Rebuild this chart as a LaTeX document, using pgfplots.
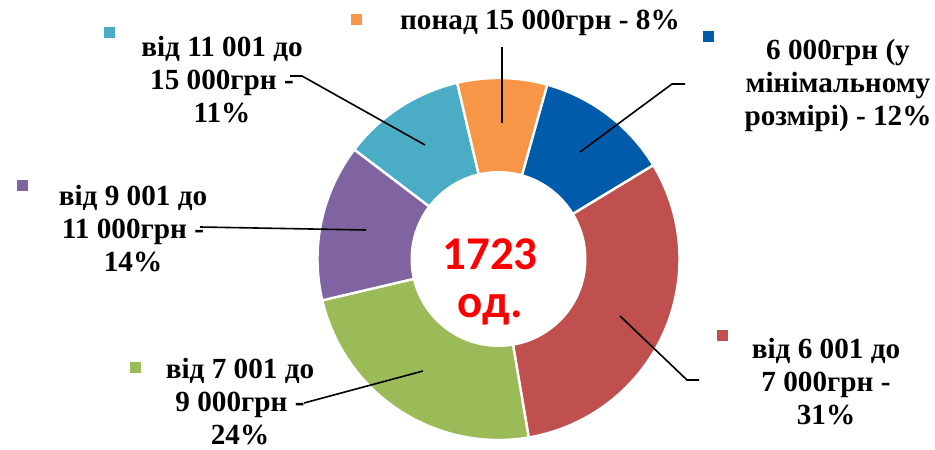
\documentclass[border=0pt]{standalone}
\usepackage{pgfplots}
\pgfplotsset{compat=1.18}
\usepackage{fontspec}
\setmainfont{Liberation Serif}
\newfontfamily\carlito{Carlito}
\definecolor{cblue}{RGB}{0,91,170}
\definecolor{cred}{RGB}{192,80,77}
\definecolor{cgreen}{RGB}{155,187,89}
\definecolor{cpurple}{RGB}{128,100,162}
\definecolor{cteal}{RGB}{75,172,198}
\definecolor{corange}{RGB}{247,150,70}
% shares, %, clockwise from the first slice
\def\vA{12}\def\vB{31}\def\vC{24}\def\vD{14}\def\vE{11}\def\vF{8}
\pgfmathsetmacro\aA{74.4}
\pgfmathsetmacro\aB{\aA-3.6*\vA}
\pgfmathsetmacro\aC{\aB-3.6*\vB}
\pgfmathsetmacro\aD{\aC-3.6*\vC}
\pgfmathsetmacro\aE{\aD-3.6*\vD}
\pgfmathsetmacro\aF{\aE-3.6*\vE}
\pgfmathsetmacro\aG{\aF-3.6*\vF}
\def\R{90.5pt}
\def\r{44pt}
\newcommand\slice[3]{\fill[#3, draw=white, line width=1.2pt] (axis cs:498.5,190) -- ++(#1:\R) arc[start angle=#1, end angle=#2, radius=\R] -- cycle;}
\begin{document}
\begin{tikzpicture}
\begin{axis}[scale only axis, width=467.5pt, height=224.5pt,
  xmin=0, xmax=935, ymin=0, ymax=449, hide axis, clip=false]
\slice{\aA}{\aB}{cblue}
\slice{\aB}{\aC}{cred}
\slice{\aC}{\aD}{cgreen}
\slice{\aD}{\aE}{cpurple}
\slice{\aE}{\aF}{cteal}
\slice{\aF}{\aG}{corange}
\fill[white] (axis cs:498.5,190) circle[radius=\r];
% leader lines
\draw[line width=0.8pt] (axis cs:502,326) -- (axis cs:502,402);
\draw[line width=0.8pt] (axis cs:580,297) -- (axis cs:672,365) -- (axis cs:685,365);
\draw[line width=0.8pt] (axis cs:620,133) -- (axis cs:687,69) -- (axis cs:699,69);
\draw[line width=0.8pt] (axis cs:423,78) -- (axis cs:304,46);
\draw[line width=0.8pt] (axis cs:366,219) -- (axis cs:200,222);
\draw[line width=0.8pt] (axis cs:425,304) -- (axis cs:302,373) -- (axis cs:290,373);
% legend squares
\fill[cteal] (axis cs:109,416) ++(-2.75pt,-2.75pt) rectangle ++(5.5pt,5.5pt);
\fill[corange] (axis cs:356,429) ++(-2.75pt,-2.75pt) rectangle ++(5.5pt,5.5pt);
\fill[cblue] (axis cs:708,412) ++(-2.75pt,-2.75pt) rectangle ++(5.5pt,5.5pt);
\fill[cpurple] (axis cs:22,263) ++(-2.75pt,-2.75pt) rectangle ++(5.5pt,5.5pt);
\fill[cgreen] (axis cs:135,81) ++(-2.75pt,-2.75pt) rectangle ++(5.5pt,5.5pt);
\fill[cred] (axis cs:722,113) ++(-2.75pt,-2.75pt) rectangle ++(5.5pt,5.5pt);
% labels
\tikzset{lab/.style={font=\fontsize{14.6}{16.5}\selectfont\bfseries, align=center, inner sep=0pt}}
\node[lab] at (axis cs:222,369) {від 11 001 до\\15 000грн -\\11\%};
\node[lab] at (axis cs:540,426) {понад 15 000грн - 8\%};
\node[lab] at (axis cs:838,364) {6 000грн (у\\мінімальному\\розмірі) - 12\%};
\node[lab] at (axis cs:133,220) {від 9 001 до\\11 000грн -\\14\%};
\node[lab] at (axis cs:240,47) {від 7 001 до\\9 000грн -\\24\%};
\node[lab] at (axis cs:826,67) {від 6 001 до\\7 000грн -\\31\%};
\node[font=\carlito\fontsize{23.5}{24}\selectfont\bfseries, text=red, align=center, inner sep=0pt] at (axis cs:490,167) {1723\\од.};
\end{axis}
\pgfresetboundingbox
\path (current axis.south west) rectangle (current axis.north east);
\end{tikzpicture}
\end{document}
